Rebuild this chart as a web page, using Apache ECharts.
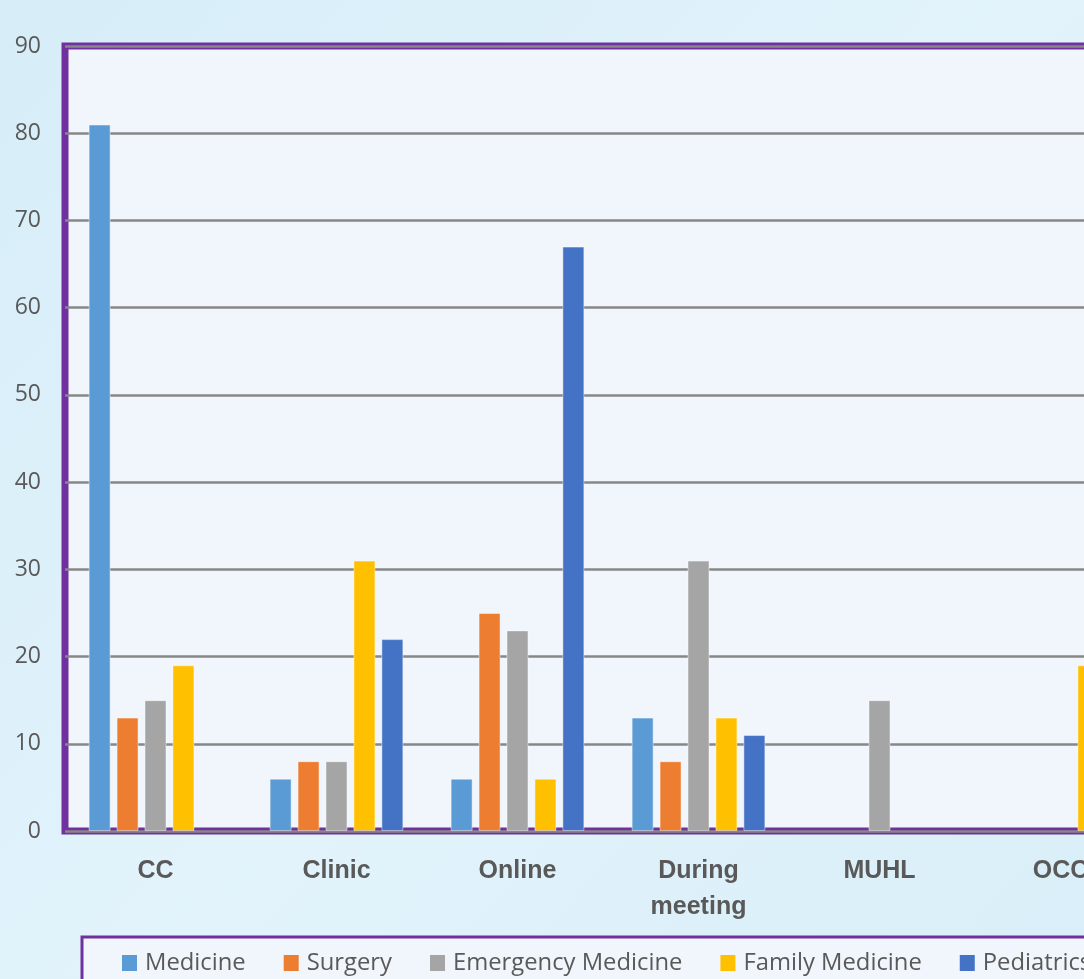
<!DOCTYPE html>
<html>
<head>
<meta charset="utf-8">
<script src="https://cdn.jsdelivr.net/npm/echarts@6/dist/echarts.min.js"></script>
<style>
html,body{margin:0;padding:0;background:#dbeff9;overflow:hidden;width:1084px;height:979px;}
#c{width:1400px;height:1000px;}
</style>
</head>
<body>
<div id="c"></div>
<script>
const categories = ['CC', 'Clinic', 'Online', 'During\nmeeting', 'MUHL', 'OCC'];
const seriesNames = ['Medicine', 'Surgery', 'Emergency Medicine', 'Family Medicine', 'Pediatrics'];
const medicine = [81, 6, 6, 13, 0, 0];
const surgery = [13, 8, 25, 8, 0, 0];
const emergencyMedicine = [15, 8, 23, 31, 15, 0];
const familyMedicine = [19, 31, 6, 13, 0, 19];
const pediatrics = [0, 22, 67, 11, 0, 0];
const yTicks = [0, 10, 20, 30, 40, 50, 60, 70, 80, 90];

const colors = ['#5b9bd5', '#ed7d31', '#a5a5a5', '#ffc000', '#4472c4'];
const allData = [medicine, surgery, emergencyMedicine, familyMedicine, pediatrics];

const chart = echarts.init(document.getElementById('c'), null, {renderer: 'canvas'});
chart.setOption({
  backgroundColor: {
    type: 'linear', x: 0, y: 0, x2: 0.8, y2: 1,
    colorStops: [{offset: 0, color: '#d6edf8'}, {offset: 0.5, color: '#e2f3fb'}, {offset: 1, color: '#d8eef8'}]
  },
  animation: false,
  color: colors,
  grid: {
    left: 65, top: 46, bottom: 169, width: 1086,
    show: true, backgroundColor: '#f0f6fb', borderColor: '#7030a0', borderWidth: 7,
    containLabel: false
  },
  legend: {
    left: 82, top: 937,
    orient: 'horizontal',
    data: seriesNames,
    itemWidth: 15, itemHeight: 16, itemGap: 38,
    icon: 'rect',
    itemStyle: {borderWidth: 0},
    padding: [14, 120, 40, 40],
    backgroundColor: '#f0f6fb', borderColor: '#7030a0', borderWidth: 3,
    textStyle: {fontFamily: 'Open Sans', fontSize: 23.8, color: '#595959', padding: [0, 0, 0, 3]}
  },
  xAxis: {
    type: 'category',
    data: categories,
    axisLine: {show: false},
    axisTick: {show: false},
    axisLabel: {
      margin: 22, fontFamily: 'Liberation Sans', fontWeight: 'bold', fontSize: 25,
      color: '#595959', lineHeight: 36, interval: 0
    }
  },
  yAxis: {
    type: 'value', min: 0, max: 90, interval: 10,
    axisLine: {show: false}, axisTick: {show: false},
    splitLine: {lineStyle: {color: '#878787', width: 2.5}},
    axisLabel: {
      margin: 24, fontFamily: 'Open Sans', fontSize: 23, color: '#595959',
      formatter: v => yTicks.includes(v) ? String(v) : ''
    }
  },
  series: seriesNames.map((n, i) => ({
    name: n, type: 'bar',
    data: allData[i].map(v => v === 0 ? {value: v, itemStyle: {borderWidth: 0}} : v),
    barWidth: 22, barGap: '27%',
    itemStyle: {color: colors[i], borderColor: 'rgba(255,255,255,0.45)', borderWidth: 1}
  }))
});
</script>
</body>
</html>
